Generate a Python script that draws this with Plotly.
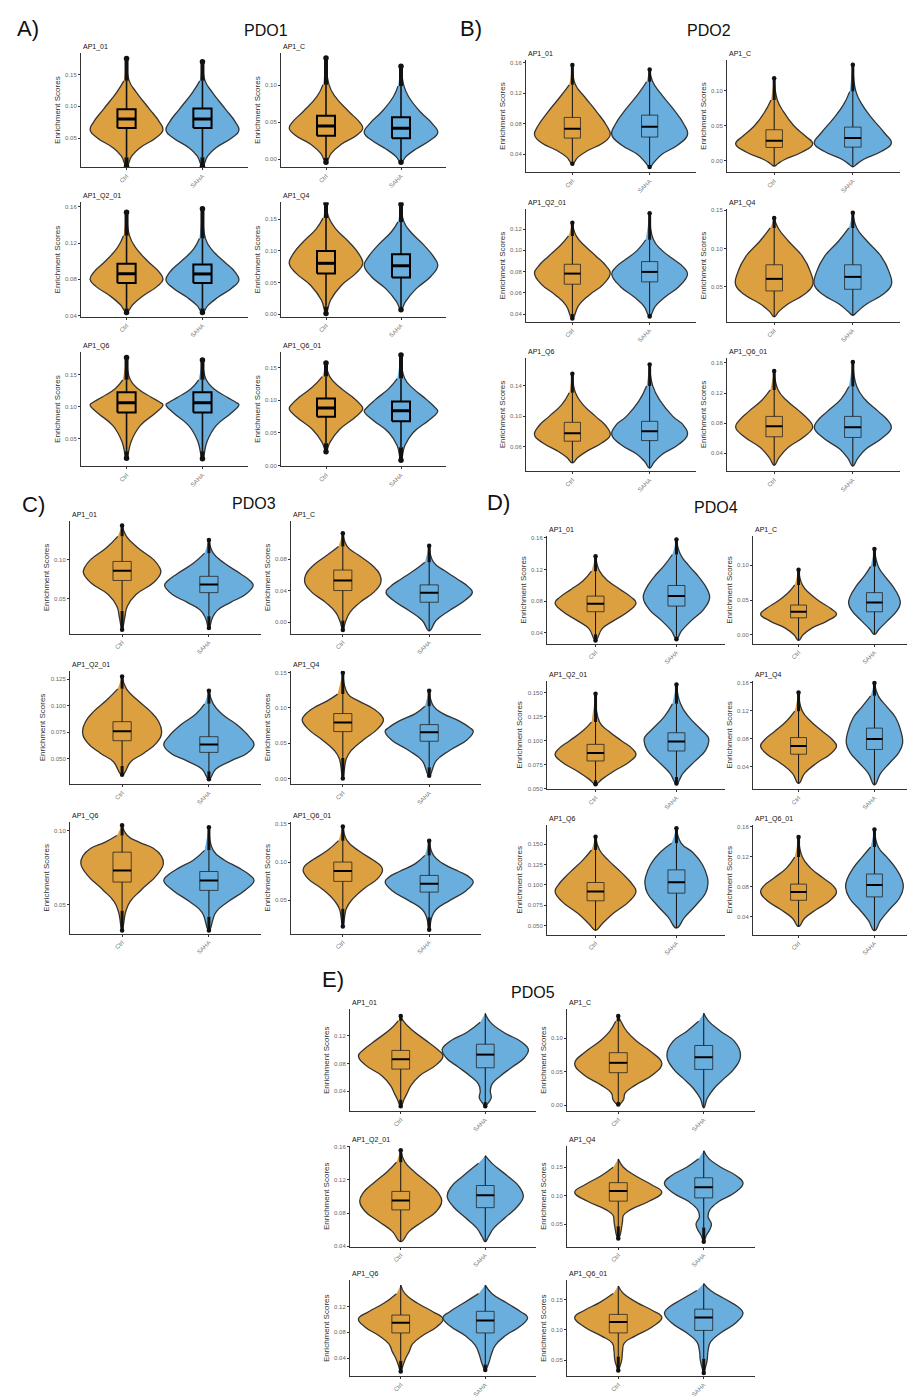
import plotly.graph_objects as go

# ------------------------------------------------------------------ data
PANEL_LABELS = ["A)", "B)", "C)", "D)", "E)"]
PANEL_TITLES = ["PDO1", "PDO2", "PDO3", "PDO4", "PDO5"]
SUBPLOT_NAMES = ["AP1_01", "AP1_C", "AP1_Q2_01", "AP1_Q4", "AP1_Q6", "AP1_Q6_01"]
GROUPS = ["Ctrl", "SAHA"]

# order: PDO1..PDO5, each: AP1_01, AP1_C, AP1_Q2_01, AP1_Q4, AP1_Q6, AP1_Q6_01
Y_RANGES = [
    [0.004, 0.184], [-0.011, 0.144], [0.0386, 0.165], [-0.0043, 0.177], [0.0062, 0.186], [-0.0014, 0.174],
    [0.0163, 0.1637], [-0.0169, 0.1446], [0.0326, 0.1387], [0.0043, 0.1514], [0.0278, 0.177], [0.0162, 0.1667],
    [0.0047, 0.149], [-0.0148, 0.128], [0.0257, 0.133], [-0.0082, 0.153], [0.0306, 0.1056], [0.0065, 0.1522],
    [0.0262, 0.162], [-0.0128, 0.1418], [0.0495, 0.1626], [0.0073, 0.1634], [0.0388, 0.1734], [0.016, 0.1625],
    [0.011, 0.1585], [-0.0086, 0.1427], [0.0397, 0.161], [0.0104, 0.1874], [0.012, 0.1605], [0.0235, 0.1816],
]
Y_TICKS = [
    [0.05, 0.10, 0.15], [0.0, 0.05, 0.10], [0.04, 0.08, 0.12, 0.16], [0.0, 0.05, 0.10, 0.15], [0.05, 0.10, 0.15], [0.0, 0.05, 0.10, 0.15],
    [0.04, 0.08, 0.12, 0.16], [0.0, 0.05, 0.10], [0.04, 0.06, 0.08, 0.10, 0.12], [0.05, 0.10, 0.15], [0.06, 0.10, 0.14], [0.04, 0.08, 0.12, 0.16],
    [0.05, 0.10], [0.0, 0.04, 0.08], [0.050, 0.075, 0.100, 0.125], [0.0, 0.05, 0.10, 0.15], [0.05, 0.10], [0.05, 0.10, 0.15],
    [0.04, 0.08, 0.12, 0.16], [0.0, 0.05, 0.10], [0.050, 0.075, 0.100, 0.125, 0.150], [0.04, 0.08, 0.12, 0.16], [0.050, 0.075, 0.100, 0.125, 0.150], [0.04, 0.08, 0.12, 0.16],
    [0.04, 0.08, 0.12], [0.0, 0.05, 0.10], [0.04, 0.08, 0.12, 0.16], [0.05, 0.10, 0.15], [0.04, 0.08, 0.12], [0.05, 0.10, 0.15],
]

# box statistics
CTRL_Q1 = [0.0658, 0.0317, 0.076, 0.0643, 0.0906, 0.0744,
           0.0612, 0.0189, 0.0681, 0.0447, 0.0674, 0.062,
           0.073, 0.040, 0.0668, 0.0665, 0.0653, 0.0748,
           0.0666, 0.0244, 0.0789, 0.0576, 0.0804, 0.062,
           0.0719, 0.0485, 0.0839, 0.0903, 0.079, 0.0949]
CTRL_MED = [0.080, 0.0452, 0.0862, 0.0805, 0.106, 0.088,
            0.0735, 0.0285, 0.0781, 0.0605, 0.0778, 0.076,
            0.0856, 0.0528, 0.0757, 0.0793, 0.0731, 0.0883,
            0.0766, 0.0331, 0.0872, 0.0693, 0.0918, 0.0732,
            0.0862, 0.0632, 0.0952, 0.108, 0.0948, 0.1128]
CTRL_Q3 = [0.0954, 0.0588, 0.0972, 0.100, 0.1224, 0.1026,
           0.0883, 0.0443, 0.0869, 0.0789, 0.0922, 0.089,
           0.0974, 0.066, 0.0848, 0.0921, 0.0854, 0.100,
           0.0863, 0.0428, 0.0962, 0.0815, 0.1029, 0.0836,
           0.099, 0.0783, 0.1062, 0.1228, 0.1068, 0.1255]
SAHA_Q1 = [0.066, 0.0285, 0.076, 0.058, 0.0906, 0.0677,
           0.0626, 0.0194, 0.0703, 0.0469, 0.0682, 0.0611,
           0.0574, 0.0252, 0.0558, 0.0528, 0.0597, 0.0608,
           0.0737, 0.0331, 0.0893, 0.0644, 0.0898, 0.0665,
           0.0738, 0.0534, 0.0866, 0.096, 0.079, 0.099]
SAHA_MED = [0.080, 0.042, 0.086, 0.0766, 0.106, 0.0836,
            0.0761, 0.0323, 0.0797, 0.0631, 0.0804, 0.0746,
            0.0678, 0.0372, 0.0633, 0.0656, 0.0664, 0.0717,
            0.0863, 0.0466, 0.0993, 0.0795, 0.1033, 0.0823,
            0.0929, 0.0715, 0.1015, 0.1148, 0.0982, 0.1204]
SAHA_Q3 = [0.0964, 0.057, 0.0965, 0.095, 0.1224, 0.098,
           0.0913, 0.0481, 0.0894, 0.0789, 0.0935, 0.089,
           0.0783, 0.0472, 0.0706, 0.0764, 0.0724, 0.0826,
           0.0997, 0.0606, 0.1083, 0.0951, 0.1184, 0.0971,
           0.108, 0.089, 0.1133, 0.1314, 0.1126, 0.1342]

# whisker ends (points beyond them are outliers)
CTRL_LW = [0.020, 0.002, 0.048, 0.012, 0.030, 0.034,
           0.030, -0.008, 0.040, 0.011, 0.039, 0.024,
           0.034, 0.002, 0.043, 0.029, 0.046, 0.039,
           0.038, -0.008, 0.0588, 0.0156, 0.0441, 0.027,
           0.0276, 0.005, 0.0456, 0.046, 0.036, 0.056]
CTRL_UW = [0.140, 0.101, 0.128, 0.152, 0.142, 0.136,
           0.131, 0.087, 0.1136, 0.127, 0.131, 0.124,
           0.1296, 0.096, 0.1158, 0.1197, 0.0966, 0.128,
           0.1178, 0.0717, 0.1194, 0.1195, 0.1428, 0.1197,
           0.1419, 0.125, 0.1414, 0.1645, 0.1533, 0.1724]
SAHA_LW = [0.020, -0.002, 0.048, 0.010, 0.030, 0.028,
           0.025, -0.009, 0.040, 0.013, 0.032, 0.023,
           0.027, -0.011, 0.038, 0.016, 0.042, 0.028,
           0.035, 0.0007, 0.0623, 0.0136, 0.047, 0.0214,
           0.024, -0.004, 0.0456, 0.044, 0.030, 0.052]
SAHA_UW = [0.140, 0.099, 0.125, 0.146, 0.142, 0.133,
           0.135, 0.099, 0.110, 0.127, 0.140, 0.1285,
           0.108, 0.076, 0.1016, 0.1025, 0.0866, 0.1087,
           0.1388, 0.0983, 0.1384, 0.1415, 0.151, 0.1332,
           0.1528, 0.137, 0.1492, 0.1788, 0.1533, 0.1765]

# violin outlines: score levels (top -> bottom) and half-widths (category units)
CTRL_PROF_Y = [
    [0.175, 0.140, 0.122, 0.096, 0.076, 0.063, 0.050, 0.035, 0.022, 0.006],
    [0.137, 0.101, 0.085, 0.065, 0.050, 0.042, 0.032, 0.020, 0.008, -0.004],
    [0.154, 0.128, 0.115, 0.100, 0.088, 0.080, 0.072, 0.062, 0.052, 0.0434],
    [0.175, 0.152, 0.135, 0.115, 0.095, 0.080, 0.065, 0.045, 0.022, 0.001],
    [0.177, 0.142, 0.128, 0.115, 0.106, 0.1026, 0.090, 0.070, 0.045, 0.019],
    [0.157, 0.136, 0.120, 0.105, 0.093, 0.087, 0.075, 0.055, 0.035, 0.021],
    [0.157, 0.131, 0.115, 0.095, 0.078, 0.0656, 0.055, 0.045, 0.036, 0.0277],
    [0.118, 0.087, 0.070, 0.050, 0.035, 0.024, 0.012, 0.002, -0.004, -0.008],
    [0.126, 0.1136, 0.105, 0.095, 0.085, 0.0784, 0.068, 0.058, 0.048, 0.0357],
    [0.140, 0.127, 0.110, 0.090, 0.070, 0.0526, 0.040, 0.028, 0.018, 0.011],
    [0.156, 0.131, 0.115, 0.100, 0.088, 0.0756, 0.065, 0.055, 0.046, 0.039],
    [0.149, 0.124, 0.110, 0.096, 0.083, 0.0746, 0.062, 0.048, 0.034, 0.024],
    [0.1435, 0.1296, 0.115, 0.100, 0.090, 0.0826, 0.070, 0.055, 0.040, 0.025, 0.010],
    [0.1128, 0.096, 0.085, 0.072, 0.060, 0.050, 0.038, 0.025, 0.012, 0.000, -0.010],
    [0.1275, 0.1158, 0.105, 0.095, 0.085, 0.0747, 0.065, 0.055, 0.047, 0.0346],
    [0.150, 0.1197, 0.110, 0.100, 0.090, 0.0828, 0.070, 0.055, 0.040, 0.028, 0.000],
    [0.1034, 0.0966, 0.092, 0.088, 0.083, 0.0776, 0.070, 0.060, 0.052, 0.045, 0.0328],
    [0.1465, 0.128, 0.115, 0.102, 0.095, 0.089, 0.078, 0.065, 0.050, 0.039, 0.016],
    [0.1367, 0.1178, 0.105, 0.095, 0.085, 0.078, 0.068, 0.055, 0.045, 0.0304],
    [0.0935, 0.0717, 0.060, 0.048, 0.038, 0.0297, 0.020, 0.010, 0.000, -0.008],
    [0.1488, 0.1194, 0.110, 0.100, 0.092, 0.0858, 0.078, 0.068, 0.060, 0.0547],
    [0.1464, 0.1195, 0.105, 0.090, 0.078, 0.0693, 0.058, 0.045, 0.030, 0.0156],
    [0.159, 0.1428, 0.130, 0.115, 0.100, 0.0918, 0.080, 0.065, 0.052, 0.0441],
    [0.1467, 0.1197, 0.105, 0.092, 0.082, 0.0732, 0.062, 0.050, 0.038, 0.027],
    [0.149, 0.1419, 0.130, 0.115, 0.100, 0.091, 0.078, 0.062, 0.048, 0.038, 0.028, 0.018],
    [0.133, 0.125, 0.110, 0.095, 0.080, 0.0622, 0.045, 0.030, 0.018, 0.008, 0.001],
    [0.1558, 0.1414, 0.130, 0.118, 0.105, 0.0945, 0.082, 0.070, 0.058, 0.0456],
    [0.1645, 0.150, 0.135, 0.120, 0.1057, 0.090, 0.075, 0.065, 0.055, 0.045, 0.030, 0.0246],
    [0.1533, 0.140, 0.125, 0.112, 0.1006, 0.088, 0.075, 0.062, 0.050, 0.040, 0.030, 0.0192],
    [0.1724, 0.160, 0.145, 0.132, 0.1204, 0.105, 0.090, 0.078, 0.065, 0.050, 0.040, 0.0327],
]
CTRL_PROF_W = [
    [0, 0.035, 0.13, 0.30, 0.43, 0.48, 0.38, 0.18, 0.07, 0],
    [0, 0.04, 0.12, 0.30, 0.45, 0.49, 0.40, 0.20, 0.07, 0],
    [0, 0.04, 0.12, 0.28, 0.43, 0.48, 0.40, 0.22, 0.08, 0],
    [0, 0.04, 0.13, 0.30, 0.44, 0.49, 0.40, 0.20, 0.06, 0],
    [0, 0.05, 0.15, 0.32, 0.45, 0.48, 0.38, 0.18, 0.06, 0],
    [0, 0.05, 0.18, 0.35, 0.46, 0.49, 0.40, 0.18, 0.05, 0],
    [0, 0.04, 0.16, 0.32, 0.44, 0.49, 0.40, 0.20, 0.07, 0],
    [0, 0.04, 0.12, 0.25, 0.40, 0.49, 0.35, 0.14, 0.05, 0],
    [0, 0.05, 0.15, 0.30, 0.44, 0.49, 0.40, 0.22, 0.08, 0],
    [0, 0.05, 0.18, 0.36, 0.46, 0.49, 0.38, 0.18, 0.06, 0],
    [0, 0.04, 0.14, 0.30, 0.43, 0.49, 0.38, 0.20, 0.07, 0],
    [0, 0.05, 0.16, 0.32, 0.45, 0.49, 0.38, 0.18, 0.06, 0],
    [0, 0.05, 0.18, 0.36, 0.43, 0.445, 0.36, 0.16, 0.06, 0.03, 0],
    [0, 0.05, 0.18, 0.34, 0.43, 0.44, 0.36, 0.20, 0.08, 0.03, 0],
    [0, 0.05, 0.18, 0.32, 0.42, 0.455, 0.40, 0.25, 0.10, 0],
    [0, 0.06, 0.18, 0.34, 0.44, 0.47, 0.40, 0.24, 0.10, 0.04, 0],
    [0, 0.06, 0.20, 0.36, 0.45, 0.475, 0.40, 0.22, 0.09, 0.04, 0],
    [0, 0.05, 0.18, 0.36, 0.44, 0.46, 0.40, 0.24, 0.10, 0.04, 0],
    [0, 0.05, 0.16, 0.30, 0.44, 0.50, 0.42, 0.22, 0.08, 0],
    [0, 0.05, 0.14, 0.28, 0.42, 0.50, 0.38, 0.18, 0.06, 0],
    [0, 0.05, 0.16, 0.32, 0.45, 0.50, 0.42, 0.22, 0.08, 0],
    [0, 0.05, 0.16, 0.32, 0.45, 0.50, 0.42, 0.24, 0.08, 0],
    [0, 0.05, 0.16, 0.32, 0.46, 0.50, 0.42, 0.22, 0.08, 0],
    [0, 0.05, 0.16, 0.32, 0.45, 0.50, 0.42, 0.24, 0.08, 0],
    [0, 0.03, 0.12, 0.28, 0.44, 0.50, 0.42, 0.22, 0.12, 0.08, 0.04, 0],
    [0, 0.03, 0.10, 0.22, 0.38, 0.51, 0.40, 0.20, 0.08, 0.06, 0],
    [0, 0.05, 0.16, 0.30, 0.44, 0.485, 0.42, 0.26, 0.10, 0],
    [0, 0.06, 0.20, 0.38, 0.51, 0.36, 0.14, 0.06, 0.05, 0.04, 0.02, 0],
    [0, 0.05, 0.20, 0.38, 0.50, 0.42, 0.26, 0.14, 0.10, 0.06, 0.03, 0],
    [0, 0.06, 0.22, 0.40, 0.51, 0.40, 0.20, 0.07, 0.05, 0.04, 0.02, 0],
]
SAHA_PROF_Y = [
    [0.170, 0.140, 0.122, 0.096, 0.076, 0.062, 0.050, 0.035, 0.022, 0.006],
    [0.126, 0.099, 0.085, 0.065, 0.048, 0.036, 0.025, 0.014, 0.004, -0.004],
    [0.158, 0.125, 0.113, 0.100, 0.088, 0.079, 0.070, 0.060, 0.051, 0.0434],
    [0.174, 0.146, 0.130, 0.110, 0.090, 0.077, 0.060, 0.040, 0.020, 0.007],
    [0.173, 0.142, 0.128, 0.115, 0.106, 0.103, 0.090, 0.070, 0.045, 0.018],
    [0.169, 0.133, 0.118, 0.100, 0.088, 0.083, 0.070, 0.050, 0.030, 0.008],
    [0.151, 0.135, 0.120, 0.100, 0.080, 0.0656, 0.052, 0.040, 0.030, 0.0233],
    [0.1375, 0.099, 0.080, 0.060, 0.040, 0.025, 0.013, 0.002, -0.005, -0.009],
    [0.135, 0.110, 0.100, 0.092, 0.084, 0.0775, 0.066, 0.056, 0.047, 0.0376],
    [0.147, 0.127, 0.110, 0.090, 0.070, 0.0526, 0.040, 0.028, 0.018, 0.013],
    [0.168, 0.140, 0.120, 0.100, 0.088, 0.076, 0.062, 0.050, 0.040, 0.032],
    [0.161, 0.1285, 0.112, 0.096, 0.083, 0.0737, 0.060, 0.046, 0.033, 0.023],
    [0.125, 0.108, 0.095, 0.082, 0.072, 0.0665, 0.055, 0.045, 0.035, 0.025, 0.012],
    [0.0968, 0.076, 0.065, 0.055, 0.045, 0.038, 0.028, 0.015, 0.002, -0.011],
    [0.114, 0.1016, 0.092, 0.082, 0.070, 0.063, 0.055, 0.048, 0.040, 0.0305],
    [0.1246, 0.1025, 0.092, 0.082, 0.072, 0.067, 0.055, 0.040, 0.025, 0.004],
    [0.1022, 0.0866, 0.080, 0.075, 0.070, 0.0664, 0.060, 0.052, 0.045, 0.0328],
    [0.128, 0.1087, 0.098, 0.088, 0.080, 0.0739, 0.062, 0.050, 0.038, 0.028, 0.0117],
    [0.1577, 0.1388, 0.125, 0.110, 0.095, 0.084, 0.070, 0.055, 0.042, 0.0317],
    [0.1234, 0.0983, 0.085, 0.070, 0.055, 0.0452, 0.035, 0.020, 0.008, 0.0007],
    [0.1585, 0.1384, 0.125, 0.112, 0.104, 0.0997, 0.090, 0.078, 0.066, 0.0554],
    [0.160, 0.1415, 0.125, 0.110, 0.090, 0.0732, 0.060, 0.045, 0.030, 0.0136],
    [0.1694, 0.151, 0.140, 0.125, 0.110, 0.102, 0.090, 0.075, 0.060, 0.047],
    [0.1567, 0.1332, 0.120, 0.105, 0.090, 0.079, 0.065, 0.050, 0.035, 0.0214],
    [0.1528, 0.140, 0.125, 0.112, 0.100, 0.088, 0.075, 0.062, 0.050, 0.040, 0.030, 0.022, 0.018],
    [0.137, 0.125, 0.110, 0.095, 0.0734, 0.055, 0.040, 0.025, 0.010, -0.004],
    [0.1492, 0.140, 0.125, 0.112, 0.1003, 0.088, 0.075, 0.062, 0.052, 0.0456],
    [0.1788, 0.165, 0.150, 0.135, 0.1217, 0.105, 0.090, 0.075, 0.063, 0.050, 0.040, 0.030, 0.019],
    [0.1533, 0.140, 0.125, 0.112, 0.103, 0.090, 0.075, 0.060, 0.045, 0.032, 0.0216],
    [0.1765, 0.165, 0.150, 0.138, 0.128, 0.112, 0.095, 0.080, 0.065, 0.050, 0.038, 0.0286],
]
SAHA_PROF_W = [
    [0, 0.035, 0.13, 0.30, 0.43, 0.48, 0.38, 0.18, 0.07, 0],
    [0, 0.04, 0.10, 0.25, 0.42, 0.49, 0.38, 0.20, 0.07, 0],
    [0, 0.04, 0.12, 0.28, 0.43, 0.48, 0.38, 0.20, 0.07, 0],
    [0, 0.04, 0.13, 0.30, 0.44, 0.49, 0.40, 0.20, 0.06, 0],
    [0, 0.05, 0.15, 0.32, 0.45, 0.48, 0.38, 0.18, 0.06, 0],
    [0, 0.05, 0.16, 0.35, 0.46, 0.49, 0.38, 0.16, 0.05, 0],
    [0, 0.04, 0.14, 0.30, 0.44, 0.49, 0.36, 0.16, 0.06, 0],
    [0, 0.04, 0.12, 0.25, 0.40, 0.49, 0.36, 0.14, 0.05, 0],
    [0, 0.05, 0.16, 0.30, 0.44, 0.49, 0.38, 0.20, 0.07, 0],
    [0, 0.05, 0.18, 0.36, 0.46, 0.49, 0.38, 0.18, 0.06, 0],
    [0, 0.04, 0.14, 0.30, 0.44, 0.49, 0.36, 0.16, 0.06, 0],
    [0, 0.05, 0.15, 0.32, 0.45, 0.49, 0.37, 0.17, 0.06, 0],
    [0, 0.05, 0.18, 0.36, 0.48, 0.51, 0.42, 0.25, 0.10, 0.04, 0],
    [0, 0.05, 0.18, 0.32, 0.45, 0.50, 0.42, 0.24, 0.08, 0],
    [0, 0.05, 0.15, 0.32, 0.47, 0.52, 0.44, 0.26, 0.08, 0],
    [0, 0.05, 0.16, 0.34, 0.47, 0.51, 0.44, 0.24, 0.08, 0],
    [0, 0.05, 0.18, 0.34, 0.47, 0.52, 0.42, 0.22, 0.08, 0],
    [0, 0.05, 0.16, 0.34, 0.47, 0.51, 0.42, 0.24, 0.08, 0.03, 0],
    [0, 0.05, 0.15, 0.28, 0.38, 0.41, 0.34, 0.18, 0.06, 0],
    [0, 0.05, 0.13, 0.24, 0.32, 0.34, 0.30, 0.17, 0.06, 0],
    [0, 0.05, 0.15, 0.30, 0.39, 0.40, 0.36, 0.22, 0.08, 0],
    [0, 0.05, 0.17, 0.28, 0.35, 0.37, 0.32, 0.20, 0.08, 0],
    [0, 0.06, 0.20, 0.32, 0.38, 0.39, 0.36, 0.24, 0.10, 0],
    [0, 0.05, 0.16, 0.28, 0.36, 0.38, 0.33, 0.20, 0.08, 0],
    [0, 0.06, 0.22, 0.42, 0.51, 0.46, 0.32, 0.18, 0.08, 0.06, 0.07, 0.03, 0],
    [0, 0.06, 0.20, 0.36, 0.43, 0.36, 0.24, 0.12, 0.04, 0],
    [0, 0.08, 0.26, 0.40, 0.45, 0.38, 0.24, 0.10, 0.04, 0],
    [0, 0.06, 0.20, 0.38, 0.46, 0.36, 0.18, 0.07, 0.05, 0.09, 0.07, 0.03, 0],
    [0, 0.08, 0.26, 0.42, 0.50, 0.42, 0.24, 0.12, 0.07, 0.04, 0],
    [0, 0.08, 0.26, 0.40, 0.46, 0.38, 0.20, 0.08, 0.05, 0.04, 0.02, 0],
]

# ------------------------------------------------------------------ geometry / style
FIG_W, FIG_H = 915, 1400
PANEL_X = [((73, 240), (273, 438)), ((518, 688), (719, 892)), ((62, 253), (283, 473)),
           ((539, 717), (745, 912)), ((342, 528), (559, 747))]
PANEL_Y = [((43, 158), (193, 308), (343, 458)), ((50, 163), (200, 313), (349, 463)),
           ((513, 626), (663, 777), (815, 927)), ((528, 636), (673, 782), (818, 928)),
           ((1003, 1105), (1140, 1241), (1275, 1371))]
LABEL_POS = [(20, 19), (463, 19), (25, 496), (490, 494), (325, 973)]
TITLE_POS = [(258, 21), (701, 21), (246, 495), (708, 499), (525, 986)]

ORANGE = "#DDA040"
BLUE = "#6AAEDD"
OUTLINE = "#333333"
FONT = "Liberation Sans, Arial, sans-serif"


def fx(x):
    return x / FIG_W


def fy(y):
    return 1 - y / FIG_H


def fmt_ticks(ticks):
    dec = 2
    for t in ticks:
        if f"{t:.3f}"[-1] != "0":
            dec = 3
    return [f"{t:.{dec}f}" for t in ticks]


fig = go.Figure()
layout = dict(
    width=FIG_W, height=FIG_H, margin=dict(l=0, r=0, t=0, b=0),
    paper_bgcolor="white", plot_bgcolor="white", showlegend=False,
    font=dict(family=FONT),
)
annotations = []

for p in range(5):
    thick = (p == 0)
    box_lw = 2.0 if thick else 1.0
    med_lw = 3.0 if thick else 2.0
    whisk_lw = 1.6 if thick else 1.0
    out_lw = 4.0 if thick else 3.0
    box_hw = 0.12 if thick else 0.105
    box_col = "#000000" if thick else "rgba(30,30,30,0.75)"
    for r in range(3):
        for c in range(2):
            k = p * 6 + r * 2 + c
            idx = k + 1
            xr = "x" if idx == 1 else f"x{idx}"
            yr = "y" if idx == 1 else f"y{idx}"
            x0, x1 = PANEL_X[p][c]
            yt, yb = PANEL_Y[p][r]

            layout["xaxis" if idx == 1 else f"xaxis{idx}"] = dict(
                domain=[fx(x0), fx(x1)], range=[0.4, 2.6], anchor=yr,
                showline=True, linecolor=OUTLINE, linewidth=1, mirror=False,
                ticks="outside", ticklen=2, tickcolor=OUTLINE, tickwidth=1,
                tickvals=[1, 2], ticktext=GROUPS, tickangle=-45,
                tickfont=dict(size=6, color="#777777", family=FONT),
                showgrid=False, zeroline=False, fixedrange=True,
            )
            layout["yaxis" if idx == 1 else f"yaxis{idx}"] = dict(
                domain=[fy(yb), fy(yt)], range=Y_RANGES[k], anchor=xr,
                showline=True, linecolor=OUTLINE, linewidth=1,
                ticks="outside", ticklen=2, tickcolor=OUTLINE, tickwidth=1,
                tickvals=Y_TICKS[k], ticktext=fmt_ticks(Y_TICKS[k]),
                tickfont=dict(size=6, color="#666666", family=FONT),
                title=dict(text="Enrichment Scores", standoff=3,
                           font=dict(size=8, color="#333333", family=FONT)),
                showgrid=False, zeroline=False, fixedrange=True,
            )
            annotations.append(dict(
                x=fx(x0), y=fy(yt - 6), xref="paper", yref="paper",
                xanchor="left", yanchor="middle", showarrow=False,
                text=SUBPLOT_NAMES[k % 6], font=dict(size=7, color="#111111", family=FONT),
            ))

            groups = [
                (1, ORANGE, CTRL_PROF_Y[k], CTRL_PROF_W[k], CTRL_Q1[k], CTRL_MED[k], CTRL_Q3[k], CTRL_LW[k], CTRL_UW[k]),
                (2, BLUE, SAHA_PROF_Y[k], SAHA_PROF_W[k], SAHA_Q1[k], SAHA_MED[k], SAHA_Q3[k], SAHA_LW[k], SAHA_UW[k]),
            ]
            for cx, col, py, pw, q1, med, q3, lw, uw in groups:
                # violin outline
                xs = [cx + w for w in pw] + [cx - w for w in pw[::-1]][1:-1]
                ys = list(py) + list(py[::-1])[1:-1]
                fig.add_trace(go.Scatter(
                    x=xs, y=ys, xaxis=xr, yaxis=yr, mode="lines",
                    line=dict(color=OUTLINE, width=1.3, shape="spline", smoothing=1.3),
                    fill="toself", fillcolor=col, hoverinfo="skip",
                ))
                ymax, ymin = py[0], py[-1]
                # whisker
                fig.add_trace(go.Scatter(
                    x=[cx, cx], y=[lw, uw], xaxis=xr, yaxis=yr, mode="lines",
                    line=dict(color="#111111", width=whisk_lw), hoverinfo="skip",
                ))
                # outliers (dense points)
                ox, oy = [], []
                if ymax > uw:
                    ox += [cx, cx, None]
                    oy += [uw, ymax, None]
                if lw > ymin:
                    ox += [cx, cx, None]
                    oy += [ymin, lw, None]
                if ox:
                    fig.add_trace(go.Scatter(
                        x=ox, y=oy, xaxis=xr, yaxis=yr, mode="lines",
                        line=dict(color="#111111", width=out_lw), hoverinfo="skip",
                    ))
                    ends_y = [v for v, flag in ((ymax, ymax > uw), (ymin, lw > ymin)) if flag]
                    fig.add_trace(go.Scatter(
                        x=[cx] * len(ends_y), y=ends_y, xaxis=xr, yaxis=yr, mode="markers",
                        marker=dict(color="#111111", size=out_lw + 1.5), hoverinfo="skip",
                    ))
                # box
                fig.add_trace(go.Scatter(
                    x=[cx - box_hw, cx + box_hw, cx + box_hw, cx - box_hw, cx - box_hw],
                    y=[q1, q1, q3, q3, q1], xaxis=xr, yaxis=yr, mode="lines",
                    line=dict(color=box_col, width=box_lw), fill="toself", fillcolor=col,
                    hoverinfo="skip",
                ))
                # median
                fig.add_trace(go.Scatter(
                    x=[cx - box_hw, cx + box_hw], y=[med, med], xaxis=xr, yaxis=yr,
                    mode="lines", line=dict(color="#000000", width=med_lw), hoverinfo="skip",
                ))

    lx, ly = LABEL_POS[p]
    annotations.append(dict(
        x=fx(lx), y=fy(ly), xref="paper", yref="paper", xanchor="center", yanchor="middle",
        showarrow=False, text=PANEL_LABELS[p], font=dict(size=22, color="#111111", family=FONT),
    ))
    tx, ty = TITLE_POS[p]
    annotations.append(dict(
        x=fx(tx), y=fy(ty), xref="paper", yref="paper", xanchor="center", yanchor="middle",
        showarrow=False, text=PANEL_TITLES[p], font=dict(size=16, color="#111111", family=FONT),
    ))

layout["annotations"] = annotations
fig.update_layout(**layout)
fig.write_html("out.html")
